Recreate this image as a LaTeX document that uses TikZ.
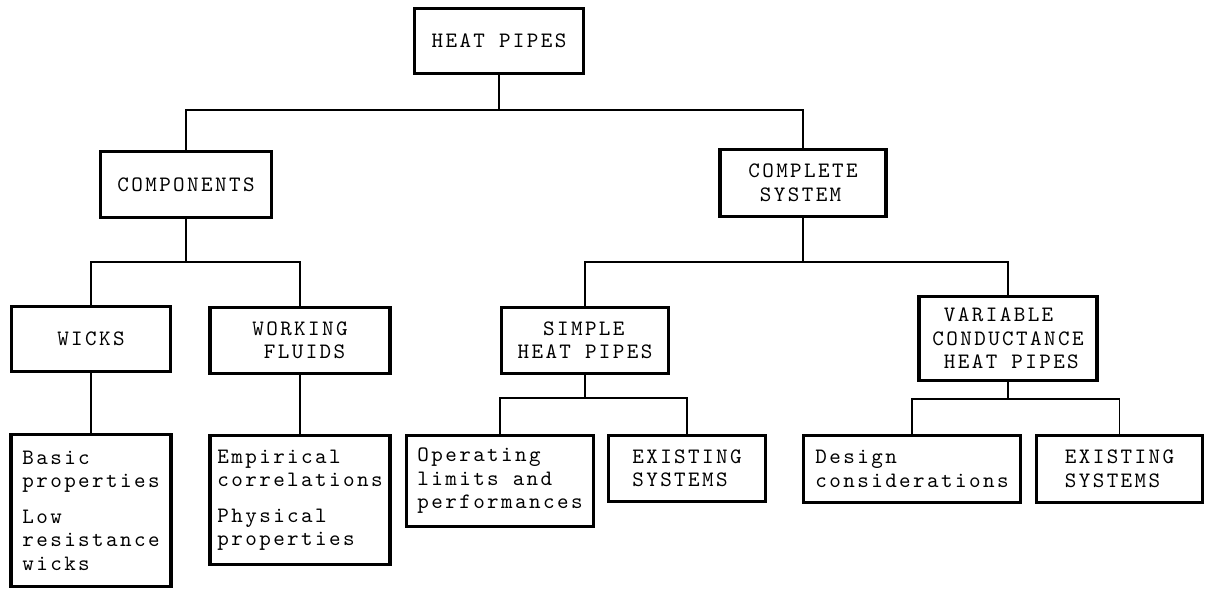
\documentclass[tikz,border=0pt]{standalone}
\usepackage{fontspec}
\newfontfamily\typefont[LetterSpace=11]{Latin Modern Mono}
\usepackage{tikz}

\begin{document}
\begin{tikzpicture}[x=0.5pt,y=-0.5pt,line cap=round,
  font=\typefont\fontsize{11pt}{11.75pt}\selectfont,
  box/.style={draw,line width=1.8pt,inner sep=0pt,align=left},
  link/.style={line width=0.7pt}]
\useasboundingbox (0,0) rectangle (1211,589);
\node[box,minimum width=84.5pt,minimum height=32.5pt] (heat) at (499,41) {HEAT PIPES};
\node[box,minimum width=85.5pt,minimum height=33pt] (comp) at (186,184.5) {COMPONENTS};
\node[box,minimum width=83pt,minimum height=33.5pt] (sys) at (803,183) {COMPLETE\\\phantom{C}SYSTEM};
\node[box,minimum width=79.5pt,minimum height=32.5pt] (wicks) at (91,339) {WICKS};
\node[box,minimum width=90pt,minimum height=33pt] (fluids) at (300,340.5) {WORKING\\\phantom{W}FLUIDS};
\node[box,minimum width=83.5pt,minimum height=33pt] (simple) at (585,340.5) {\phantom{HE}SIMPLE\\HEAT PIPES};
\node[box,minimum width=89pt,minimum height=42pt] (vchp) at (1008,338.5) {\phantom{C}VARIABLE\\CONDUCTANCE\\\phantom{C}HEAT PIPES};
\node[box,minimum width=80pt,minimum height=76pt] (basic) at (91,510.5) {Basic\\properties\\[6pt]Low\\resistance\\wicks};
\node[box,minimum width=90pt,minimum height=64.5pt] (empir) at (300,500) {Empirical\\correlations\\[6pt]Physical\\properties};
\node[box,minimum width=93.5pt,minimum height=45.5pt] (oper) at (500,481) {Operating\\limits and\\performances};
\node[box,minimum width=78.5pt,minimum height=33pt] (exist1) at (687,468.5) {EXISTING\\SYSTEMS};
\node[box,minimum width=108.5pt,minimum height=33.5pt] (design) at (912,469) {Design\\considerations};
\node[box,minimum width=83pt,minimum height=33.5pt] (exist2) at (1119.5,469) {EXISTING\\SYSTEMS};
\coordinate (j0) at (499,110);
\coordinate (j1) at (186,262);
\coordinate (j2) at (803,262);
\coordinate (j3) at (585,398);
\coordinate (j4) at (1008,399);
\draw[link] (heat.south) -- (j0);
\draw[link] (comp.north) |- (j0) -| (sys.north);
\draw[link] (comp.south) -- (j1);
\draw[link] (wicks.north) |- (j1) -| (fluids.north);
\draw[link] (sys.south) -- (j2);
\draw[link] (simple.north) |- (j2) -| (vchp.north);
\draw[link] (wicks.south) -- (basic.north);
\draw[link] (fluids.south) -- (empir.north);
\draw[link] (simple.south) -- (j3);
\draw[link] (oper.north) |- (j3) -| (exist1.north);
\draw[link] (vchp.south) -- (j4);
\draw[link] (design.north) |- (j4) -| (exist2.north);
\end{tikzpicture}
\end{document}
